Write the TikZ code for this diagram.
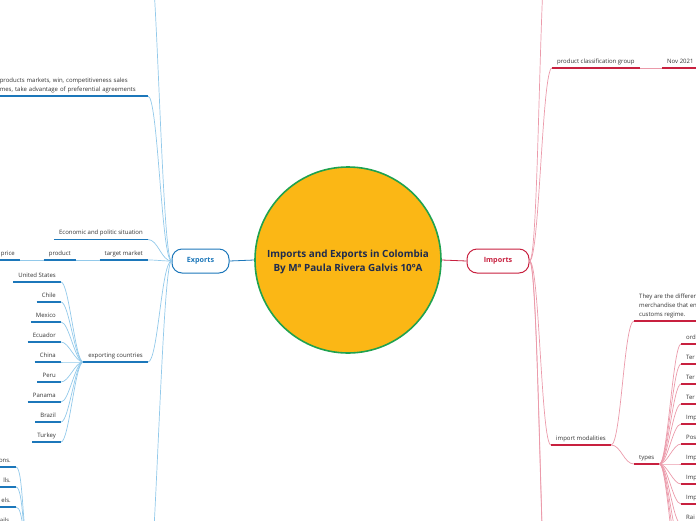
\documentclass[tikz,border=0pt]{standalone}
\usepackage{fontspec}
\setmainfont{Open Sans}
\usetikzlibrary{positioning}

\definecolor{hubfill}{HTML}{FBB715}
\definecolor{hubline}{HTML}{1FA24F}
\definecolor{hubtext}{HTML}{1E2B4E}
\definecolor{expdark}{HTML}{1C77BA}
\definecolor{explite}{HTML}{92C9EA}
\definecolor{impdark}{HTML}{C8203F}
\definecolor{implite}{HTML}{EB9AAA}
\definecolor{leaftext}{HTML}{333333}

\begin{document}
\begin{tikzpicture}[
  x=1pt, y=-1pt,
  font=\fontsize{6}{7.5}\selectfont,
  hub/.style={circle, draw=hubline, line width=1.6pt, fill=hubfill, minimum size=186pt, inner sep=0pt},
  hubtitle/.style={align=center, text=hubtext, inner sep=0pt, font=\fontsize{9.9}{14}\selectfont\bfseries},
  mainbox/.style={rounded corners=10pt, line width=1pt, fill=white, minimum height=24pt, inner sep=0pt, font=\fontsize{7.2}{8}\selectfont\bfseries},
  leaf/.style={inner xsep=5pt, inner ysep=3.3pt, text depth=1.5pt, text=leaftext, align=left},
  multileaf/.style={leaf, text depth=, font=\fontsize{6}{9}\selectfont},
  expul/.style={draw=expdark, line width=1.4pt},
  impul/.style={draw=impdark, line width=1.4pt},
  explink/.style={draw=explite, line width=0.7pt, out=0, in=180, distance=10pt},
  implink/.style={draw=implite, line width=0.7pt, out=0, in=180, distance=10pt}
]
  \useasboundingbox (0,0) rectangle (696,520);
  \clip (0,0) rectangle (696,520);

  % centre and the two main topics
  \node[hub] (hub) at (348,260) {};
  \node[hubtitle] (title) at (348,262) {Imports and Exports in Colombia\\By Mª Paula Rivera Galvis 10ºA};
  \node[mainbox, draw=expdark, text=expdark, minimum width=57pt] (exp) at (200.5,261) {Exports};
  \node[mainbox, draw=impdark, text=impdark, minimum width=62pt] (imp) at (498,261) {Imports};
  \draw[draw=expdark, line width=0.8pt] (exp.east) -- (hub.west);
  \draw[draw=impdark, line width=0.8pt] (hub.east) -- (imp.west);

  % exports side
  \node[multileaf, anchor=south east, text width=143pt] (goals) at (148,96) {products markets, win, competitiveness sales\\mes, take advantage of preferential agreements};
  \node[leaf, anchor=south east] (econ) at (148,239.5) {Economic and politic situation};
  \node[leaf, anchor=south east] (tmkt) at (148,260) {target market};
  \node[leaf, anchor=south east] (prod) at (76,260) {product};
  \node[leaf, anchor=south east] (price) at (20,260) {price};
  \node[leaf, anchor=south east] (expc) at (148,362) {exporting countries};
  \node[leaf, anchor=south east] (usa) at (61,282) {United States};
  \node[leaf, anchor=south east] (chl) at (61,302) {Chile};
  \node[leaf, anchor=south east] (mex) at (61,322) {Mexico};
  \node[leaf, anchor=south east] (ecu) at (61,342) {Ecuador};
  \node[leaf, anchor=south east] (chn) at (61,362) {China};
  \node[leaf, anchor=south east] (per) at (61,382) {Peru};
  \node[leaf, anchor=south east] (pan) at (61,402) {Panama};
  \node[leaf, anchor=south east] (bra) at (61,422) {Brazil};
  \node[leaf, anchor=south east] (tur) at (61,442) {Turkey};
  \node[leaf, anchor=south east] (gra) at (16,467) {ons.};
  \node[leaf, anchor=south east] (grb) at (16,487) {lls.};
  \node[leaf, anchor=south east] (grc) at (16,507) {els.};
  \node[leaf, anchor=south east] (grd) at (16,527) {ails.};
  \coordinate (etop) at (147,-70);
  \coordinate (ebot) at (145,620);
  \coordinate (grp) at (30,548);

  \draw[explink] (etop) to (exp.west);
  \draw[explink] (goals.south east) to (exp.west);
  \draw[explink] (econ.south east) to (exp.west);
  \draw[explink] (tmkt.south east) to (exp.west);
  \draw[explink] (expc.south east) to (exp.west);
  \draw[explink] (ebot) to (exp.west);
  \draw[draw=explite, line width=0.7pt] (prod.south east) -- (tmkt.south west);
  \draw[draw=explite, line width=0.7pt] (price.south east) -- (prod.south west);
  \foreach \c in {usa,chl,mex,ecu,chn,per,pan,bra,tur}
    \draw[explink, distance=8pt] (\c.south east) to (expc.south west);
  \foreach \c in {gra,grb,grc,grd}
    \draw[explink, distance=8pt] (\c.south east) to (grp);
  \foreach \c in {econ,tmkt,prod,price,expc,usa,chl,mex,ecu,chn,per,pan,bra,tur,gra,grb,grc,grd}
    \draw[expul] (\c.south west) -- (\c.south east);
  \draw[expul] (goals.south east) -- ++(-160,0);

  % imports side
  \node[leaf, anchor=south west] (pcg) at (552,68) {product classification group};
  \node[leaf, anchor=south west] (nov) at (662,68) {Nov 2021};
  \node[leaf, anchor=south west] (imod) at (551,445) {import modalities};
  \node[multileaf, anchor=south west] (defn) at (634,321) {They are the differen\\merchandise that en\\customs regime.};
  \node[leaf, anchor=south west] (types) at (634,464) {types};
  \node[leaf, anchor=south west] (ta) at (681,344) {ord};
  \node[leaf, anchor=south west] (tb) at (681,364) {Ter};
  \node[leaf, anchor=south west] (tc) at (681,384) {Ter};
  \node[leaf, anchor=south west] (td) at (681,404) {Ter};
  \node[leaf, anchor=south west] (te) at (681,424) {Imp};
  \node[leaf, anchor=south west] (tf) at (681,444) {Pos};
  \node[leaf, anchor=south west] (tg) at (681,464) {Imp};
  \node[leaf, anchor=south west] (th) at (681,484) {Imp};
  \node[leaf, anchor=south west] (ti) at (681,504) {Imp};
  \node[leaf, anchor=south west] (tj) at (681,524) {Rai};
  \coordinate (itop) at (549,-70);
  \coordinate (ibota) at (550,640);
  \coordinate (ibotb) at (552,700);
  \coordinate (tk) at (681,544);
  \coordinate (tl) at (681,564);
  \coordinate (tm) at (681,584);

  \draw[implink] (imp.east) to (itop);
  \draw[implink] (imp.east) to (pcg.south west);
  \draw[implink] (imp.east) to (imod.south west);
  \draw[implink] (imp.east) to (ibota);
  \draw[implink] (imp.east) to (ibotb);
  \draw[draw=implite, line width=0.7pt] (pcg.south east) -- (nov.south west);
  \draw[implink] (imod.south east) to (defn.south west);
  \draw[implink] (imod.south east) to (types.south west);
  \foreach \c in {ta,tb,tc,td,te,tf,tg,th,ti,tj}
    \draw[implink, distance=8pt] (types.south east) to (\c.south west);
  \foreach \c in {tk,tl,tm}
    \draw[implink, distance=8pt] (types.south east) to (\c);
  \foreach \c in {pcg,nov,imod,types,ta,tb,tc,td,te,tf,tg,th,ti,tj}
    \draw[impul] (\c.south west) -- (\c.south east);
  \draw[impul] (defn.south west) -- ++(80,0);
\end{tikzpicture}
\end{document}
